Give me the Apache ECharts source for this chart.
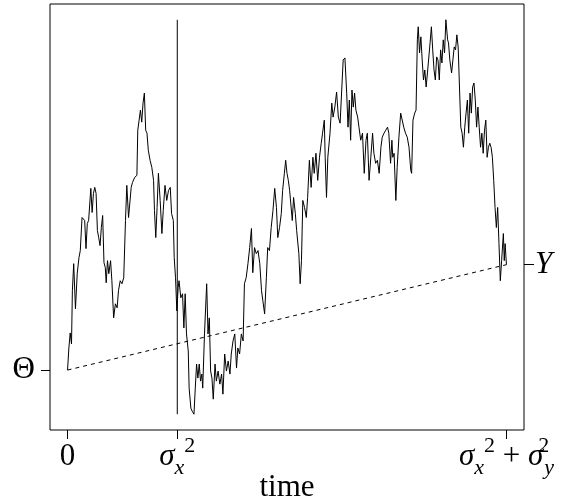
<!DOCTYPE html>
<html>
<head>
<meta charset="utf-8">
<script src="https://cdn.jsdelivr.net/npm/echarts@6/dist/echarts.min.js"></script>
<style>
  html, body { margin: 0; padding: 0; background: #fff; }
  #chart { width: 564px; height: 501px; }
</style>
</head>
<body>
<div id="chart"></div>
<script>
// path of the process, time runs from 0 to sigma_x^2 + sigma_y^2 (= 1)
const times = [
  0, 0.003, 0.006, 0.009, 0.011, 0.014, 0.018, 0.022, 0.026, 0.029,
  0.033, 0.039, 0.042, 0.045, 0.048, 0.053, 0.056, 0.059, 0.062, 0.065,
  0.068, 0.071, 0.074, 0.077, 0.080, 0.083, 0.086, 0.088, 0.091, 0.094,
  0.098, 0.101, 0.105, 0.109, 0.113, 0.116, 0.120, 0.124, 0.128, 0.132,
  0.135, 0.139, 0.143, 0.145, 0.148, 0.153, 0.158, 0.160, 0.163, 0.166,
  0.169, 0.172, 0.175, 0.178, 0.181, 0.184, 0.188, 0.192, 0.196, 0.198,
  0.201, 0.204, 0.207, 0.211, 0.215, 0.218, 0.222, 0.226, 0.230, 0.234,
  0.237, 0.241, 0.243, 0.246, 0.249, 0.252, 0.254, 0.258, 0.262, 0.265,
  0.268, 0.271, 0.275, 0.277, 0.281, 0.284, 0.288, 0.291, 0.294, 0.297,
  0.300, 0.303, 0.306, 0.308, 0.312, 0.317, 0.320, 0.323, 0.326, 0.329,
  0.332, 0.336, 0.339, 0.343, 0.347, 0.351, 0.354, 0.358, 0.362, 0.366,
  0.370, 0.373, 0.377, 0.381, 0.385, 0.388, 0.392, 0.396, 0.400, 0.403,
  0.407, 0.411, 0.415, 0.419, 0.422, 0.426, 0.430, 0.434, 0.438, 0.442,
  0.445, 0.449, 0.453, 0.456, 0.460, 0.464, 0.468, 0.472, 0.476, 0.479,
  0.483, 0.487, 0.490, 0.494, 0.497, 0.500, 0.503, 0.506, 0.512, 0.515,
  0.519, 0.522, 0.527, 0.530, 0.533, 0.536, 0.540, 0.544, 0.547, 0.551,
  0.555, 0.559, 0.562, 0.566, 0.570, 0.574, 0.578, 0.581, 0.585, 0.587,
  0.590, 0.593, 0.598, 0.602, 0.605, 0.609, 0.613, 0.617, 0.621, 0.625,
  0.628, 0.632, 0.636, 0.639, 0.642, 0.645, 0.648, 0.651, 0.654, 0.657,
  0.661, 0.664, 0.668, 0.672, 0.676, 0.680, 0.683, 0.687, 0.691, 0.695,
  0.698, 0.702, 0.706, 0.710, 0.714, 0.717, 0.721, 0.725, 0.729, 0.732,
  0.736, 0.739, 0.741, 0.744, 0.748, 0.751, 0.755, 0.759, 0.763, 0.766,
  0.770, 0.774, 0.778, 0.782, 0.784, 0.787, 0.791, 0.794, 0.797, 0.799,
  0.802, 0.805, 0.808, 0.811, 0.814, 0.817, 0.820, 0.823, 0.826, 0.829,
  0.832, 0.835, 0.838, 0.841, 0.844, 0.847, 0.850, 0.853, 0.856, 0.859,
  0.862, 0.866, 0.868, 0.871, 0.875, 0.878, 0.881, 0.884, 0.887, 0.890,
  0.893, 0.896, 0.899, 0.902, 0.905, 0.908, 0.911, 0.914, 0.917, 0.920,
  0.923, 0.926, 0.929, 0.932, 0.935, 0.938, 0.941, 0.944, 0.947, 0.950,
  0.953, 0.956, 0.959, 0.962, 0.965, 0.968, 0.971, 0.974, 0.977, 0.980,
  0.983, 0.986, 0.989, 0.993, 0.995, 0.997, 1.000
];
const values = [
  0.00, 0.22, 0.37, 0.26, 0.79, 1.06, 0.61, 0.96, 1.12, 1.19,
  1.52, 1.49, 1.21, 1.46, 1.49, 1.81, 1.57, 1.76, 1.82, 1.76,
  1.39, 1.32, 1.24, 1.42, 1.54, 1.07, 1.02, 0.87, 1.09, 0.96,
  1.09, 0.89, 0.52, 0.66, 0.62, 0.79, 0.89, 0.86, 0.92, 1.49,
  1.84, 1.52, 1.52, 1.82, 1.87, 1.92, 1.94, 2.39, 2.49, 2.59,
  2.47, 2.66, 2.76, 2.39, 2.36, 2.19, 2.09, 2.02, 1.89, 1.59,
  1.32, 1.62, 1.96, 1.69, 1.36, 1.59, 1.84, 1.69, 1.79, 1.82,
  1.56, 1.49, 1.12, 0.92, 0.59, 0.82, 0.89, 0.72, 0.76, 0.42,
  0.76, 0.36, 0.19, -0.18, -0.38, -0.41, -0.44, -0.18, 0.06, -0.08,
  0.06, -0.11, -0.04, -0.18, 0.36, 0.86, 0.36, 0.52, -0.01, -0.08,
  -0.29, 0.06, -0.11, -0.01, -0.14, -0.04, -0.24, 0.16, -0.01, 0.09,
  -0.04, 0.16, 0.29, 0.36, 0.02, 0.22, 0.16, 0.36, 0.29, 0.86,
  0.92, 1.06, 1.22, 1.41, 0.97, 1.22, 1.16, 1.19, 1.06, 0.79,
  0.69, 0.56, 0.92, 1.22, 1.19, 1.42, 1.59, 1.81, 1.62, 1.32,
  1.42, 1.56, 1.79, 1.96, 2.09, 1.96, 1.89, 1.79, 1.49, 1.72,
  1.56, 1.39, 1.16, 0.86, 1.09, 1.69, 1.62, 1.52, 1.72, 2.09,
  1.82, 2.12, 1.96, 2.16, 1.89, 2.12, 2.26, 2.36, 2.49, 2.12,
  1.72, 2.12, 2.36, 2.66, 2.52, 2.62, 2.77, 2.52, 2.46, 2.82,
  3.09, 3.11, 2.76, 2.42, 2.69, 2.29, 2.79, 2.62, 2.76, 2.59,
  2.52, 2.42, 2.29, 2.36, 1.96, 2.29, 2.36, 1.89, 2.12, 2.36,
  2.16, 2.06, 2.09, 1.96, 2.22, 2.32, 2.36, 2.39, 2.42, 2.36,
  2.06, 2.29, 2.12, 2.16, 1.69, 2.02, 2.32, 2.56, 2.56, 2.42,
  2.36, 2.32, 2.22, 1.99, 1.96, 2.49, 2.56, 2.59, 3.29, 3.42,
  3.16, 3.32, 3.09, 2.89, 2.99, 2.82, 2.96, 2.96, 3.26, 3.42,
  3.19, 2.99, 2.89, 3.12, 3.09, 2.89, 3.19, 3.06, 3.29, 3.16,
  3.49, 3.29, 3.26, 3.09, 2.96, 3.09, 3.22, 3.19, 3.34, 3.22,
  2.82, 2.42, 2.36, 2.22, 2.42, 2.56, 2.69, 2.36, 2.76, 2.56,
  2.82, 2.86, 2.69, 2.42, 2.62, 2.42, 2.22, 2.36, 2.16, 2.39,
  2.49, 2.12, 2.22, 2.26, 2.22, 2.12, 1.89, 1.62, 1.42, 1.62,
  1.26, 0.89, 1.09, 1.36, 1.09, 1.26, 1.05
];

const sigmaX2 = 0.25;
const totalTime = 1;
const xTicks = [0, sigmaX2, totalTime];
const xTickLabels = [
  '{n|0}',
  '{s|σ}{sub|x}{sup|2}',
  '{s|σ}{sub|x}{sup|2}{n| + }{s|σ}{supk|2}{sub|y}'
];
const thetaLabel = 'Θ';
const yLabel = 'Y';
const xName = 'time';

const theta = values[0];
const yEnd = values[values.length - 1];
const vMin = Math.min(...values);
const vMax = Math.max(...values);
const pad = (vMax - vMin) * 0.04;

const FONT = 'Liberation Serif';
const path = times.map((t, i) => [t, values[i]]);

const chart = echarts.init(document.getElementById('chart'), null, { renderer: 'canvas' });

const tickStyle = { color: '#000', width: 1 };

chart.setOption({
  animation: false,
  backgroundColor: '#fff',
  grid: {
    left: 50, right: 40, top: 4, bottom: 71,
    show: true, borderColor: '#000', borderWidth: 1,
    outerBoundsMode: 'none'
  },
  xAxis: {
    type: 'value',
    min: -0.04 * totalTime,
    max: 1.04 * totalTime,
    splitLine: { show: false },
    axisLine: { show: false, onZero: false },
    axisTick: { show: true, length: 9, customValues: xTicks, lineStyle: tickStyle },
    axisLabel: {
      customValues: xTicks,
      margin: 5,
      color: '#000',
      formatter: v => xTickLabels[xTicks.indexOf(v)],
      rich: {
        n: { fontFamily: FONT, fontSize: 31, lineHeight: 44, color: '#000' },
        s: { fontFamily: FONT, fontSize: 31, lineHeight: 44, fontStyle: 'italic', color: '#000' },
        sub: { fontFamily: FONT, fontSize: 22, lineHeight: 28, fontStyle: 'italic', verticalAlign: 'bottom', color: '#000' },
        sup: { fontFamily: FONT, fontSize: 22, lineHeight: 28, verticalAlign: 'top', color: '#000' },
        supk: { fontFamily: FONT, fontSize: 22, lineHeight: 28, verticalAlign: 'top', width: 1, color: '#000' }
      }
    },
    name: xName,
    nameLocation: 'middle',
    nameGap: 42,
    nameMoveOverlap: false,
    nameTextStyle: { fontFamily: FONT, fontSize: 31, color: '#000', verticalAlign: 'top' }
  },
  yAxis: [
    {
      type: 'value',
      position: 'left',
      min: vMin - pad,
      max: vMax + pad,
      splitLine: { show: false },
      axisLine: { show: false, onZero: false },
      axisTick: { show: true, length: 9, customValues: [theta], lineStyle: tickStyle },
      axisLabel: {
        customValues: [theta], margin: 15, formatter: () => thetaLabel,
        fontFamily: FONT, fontSize: 31, color: '#000'
      }
    },
    {
      type: 'value',
      position: 'right',
      min: vMin - pad,
      max: vMax + pad,
      splitLine: { show: false },
      axisLine: { show: false, onZero: false },
      axisTick: { show: true, length: 10, customValues: [yEnd], lineStyle: tickStyle },
      axisLabel: {
        customValues: [yEnd], margin: 11, formatter: () => yLabel,
        fontFamily: FONT, fontSize: 31, fontStyle: 'italic', color: '#000'
      }
    }
  ],
  series: [
    {
      // the path
      type: 'line',
      data: path,
      showSymbol: false,
      sampling: 'none',
      lineStyle: { color: '#000', width: 1 },
      z: 3
    },
    {
      // vertical line at sigma_x^2
      type: 'line',
      data: [[sigmaX2, vMin], [sigmaX2, vMax]],
      showSymbol: false,
      lineStyle: { color: '#000', width: 1 },
      z: 2
    },
    {
      // dashed line from Theta to Y
      type: 'line',
      data: [[0, theta], [totalTime, yEnd]],
      showSymbol: false,
      lineStyle: { color: '#000', width: 1, type: [4, 4] },
      z: 2
    }
  ]
});
</script>
</body>
</html>
